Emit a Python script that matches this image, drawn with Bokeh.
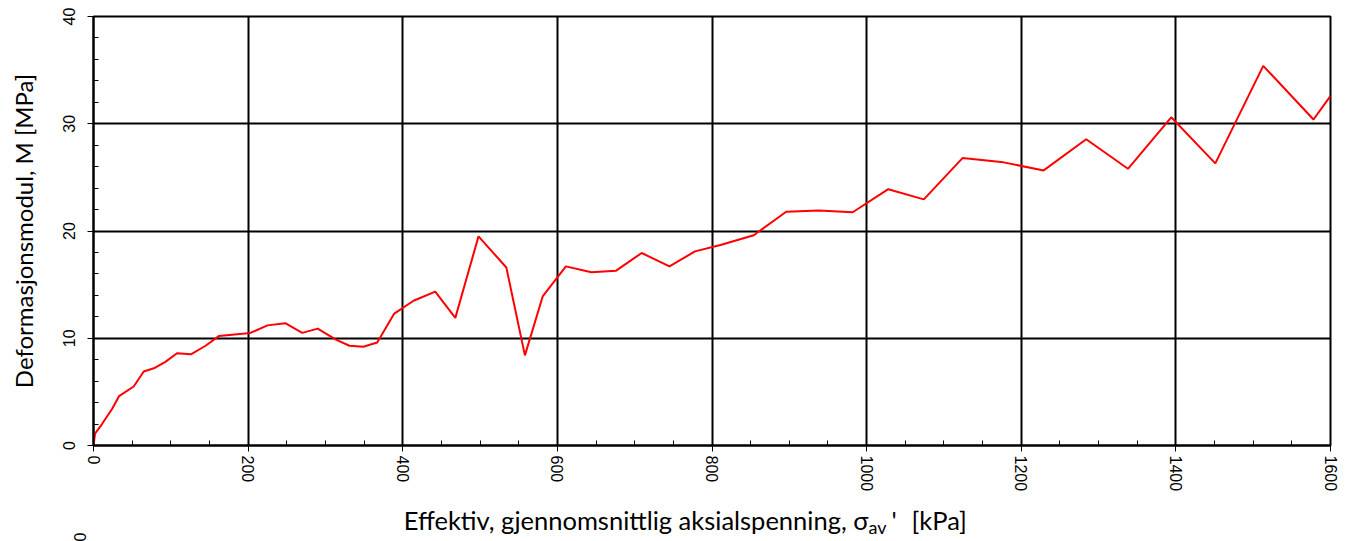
from bokeh.plotting import figure
from bokeh.layouts import column
from bokeh.models import Range1d, Label, FixedTicker, Title
from bokeh.embed import file_html
from bokeh.resources import INLINE

# data
stress_kpa = [0, 2, 11, 24, 33, 52, 65, 78, 93, 108, 126, 145, 162, 203, 225, 248, 270, 290,
              313, 331, 349, 367, 389, 414, 442, 468, 498, 534, 558, 581, 611, 644, 676, 709,
              745, 778, 811, 854, 896, 938, 982, 1028, 1074, 1124, 1177, 1229, 1284, 1338,
              1394, 1451, 1513, 1578, 1600]
modulus_mpa = [0, 1.1, 2.0, 3.4, 4.6, 5.5, 6.9, 7.2, 7.8, 8.6, 8.5, 9.3, 10.2, 10.5, 11.2, 11.4,
               10.5, 10.9, 9.9, 9.3, 9.2, 9.6, 12.3, 13.5, 14.35, 11.9, 19.5, 16.6, 8.4, 13.9,
               16.7, 16.15, 16.3, 17.95, 16.7, 18.1, 18.7, 19.6, 21.8, 21.9, 21.75, 23.9, 22.95,
               26.8, 26.4, 25.65, 28.55, 25.8, 30.6, 26.3, 35.4, 30.4, 32.6]
x_ticks = [0, 200, 400, 600, 800, 1000, 1200, 1400, 1600]
x_minor = [v for v in range(0, 1601, 50)]
y_ticks = [0, 10, 20, 30, 40]
y_minor = [v for v in range(0, 41, 2)]

LABEL_FONT = "Lato"
TICK_FONT = "Liberation Sans"
W = 1342
H1 = 495
H2 = 46

p = figure(width=W, height=H1, output_backend="svg", toolbar_location=None,
           x_range=Range1d(0, 1600), y_range=Range1d(0, 40),
           min_border_left=93, min_border_right=12, min_border_top=16, min_border_bottom=50)
p.background_fill_color = "white"
p.border_fill_color = "white"
p.outline_line_color = "black"
p.outline_line_width = 2

p.xaxis.ticker = FixedTicker(ticks=x_ticks, minor_ticks=x_minor)
p.yaxis.ticker = FixedTicker(ticks=y_ticks, minor_ticks=y_minor)

for ax in (p.xaxis, p.yaxis):
    ax.axis_line_color = "black"
    ax.axis_line_width = 2
    ax.major_tick_line_color = "black"
    ax.major_tick_line_width = 1
    ax.major_tick_in = 0
    ax.major_tick_out = 6
    ax.minor_tick_line_color = "black"
    ax.minor_tick_line_width = 1
    ax.minor_tick_in = 5
    ax.minor_tick_out = 0
    ax.major_label_text_font = TICK_FONT
    ax.major_label_text_font_size = "16px"
    ax.major_label_text_color = "black"
    ax.major_label_orientation = "vertical"

p.xaxis.major_label_standoff = 4
p.yaxis.major_label_standoff = 13

p.yaxis.axis_label = "Deformasjonsmodul, M [MPa]"
p.yaxis.axis_label_text_font = LABEL_FONT
p.yaxis.axis_label_text_font_style = "normal"
p.yaxis.axis_label_text_font_size = "24px"
p.yaxis.axis_label_text_color = "black"
p.yaxis.axis_label_standoff = 22

p.xgrid.ticker = FixedTicker(ticks=x_ticks)
p.ygrid.ticker = FixedTicker(ticks=y_ticks)
for g in (p.xgrid, p.ygrid):
    g.grid_line_color = "black"
    g.grid_line_width = 2
    g.grid_line_alpha = 1.0

p.line(stress_kpa, modulus_mpa, line_color="red", line_width=2)

# strip below the chart holding the x-axis title (with subscript) and a stray "0"
q = figure(width=W, height=H2, output_backend="svg", toolbar_location=None,
           x_range=Range1d(93, 1330), y_range=Range1d(H2, 0),
           x_axis_type=None, y_axis_type=None, min_border=0)
q.outline_line_color = None
q.grid.visible = False
q.background_fill_color = "white"
q.border_fill_color = "white"

base = 24
q.add_layout(Label(x=868, y=base, text="Effektiv, gjennomsnittlig aksialspenning, σ",
                   text_align="right", text_baseline="alphabetic", text_font=LABEL_FONT,
                   text_font_size="25.5px", text_color="black"))
q.add_layout(Label(x=868, y=base + 7, text="av", text_align="left",
                   text_baseline="alphabetic",
                   text_font=LABEL_FONT, text_font_size="18px", text_color="black"))
q.add_layout(Label(x=891, y=base, text="'", text_align="left", text_baseline="alphabetic",
                   text_font=LABEL_FONT, text_font_size="25.5px", text_color="black"))
q.add_layout(Label(x=911, y=base, text="[kPa]", text_align="left",
                   text_baseline="alphabetic",
                   text_font=LABEL_FONT, text_font_size="25.5px", text_color="black"))
q.add_layout(Title(text="0", align="left", text_font=TICK_FONT, text_font_size="16px",
                   text_font_style="normal", text_color="black", standoff=16), "left")

open("out.html", "w").write(file_html(column(p, q), INLINE))
